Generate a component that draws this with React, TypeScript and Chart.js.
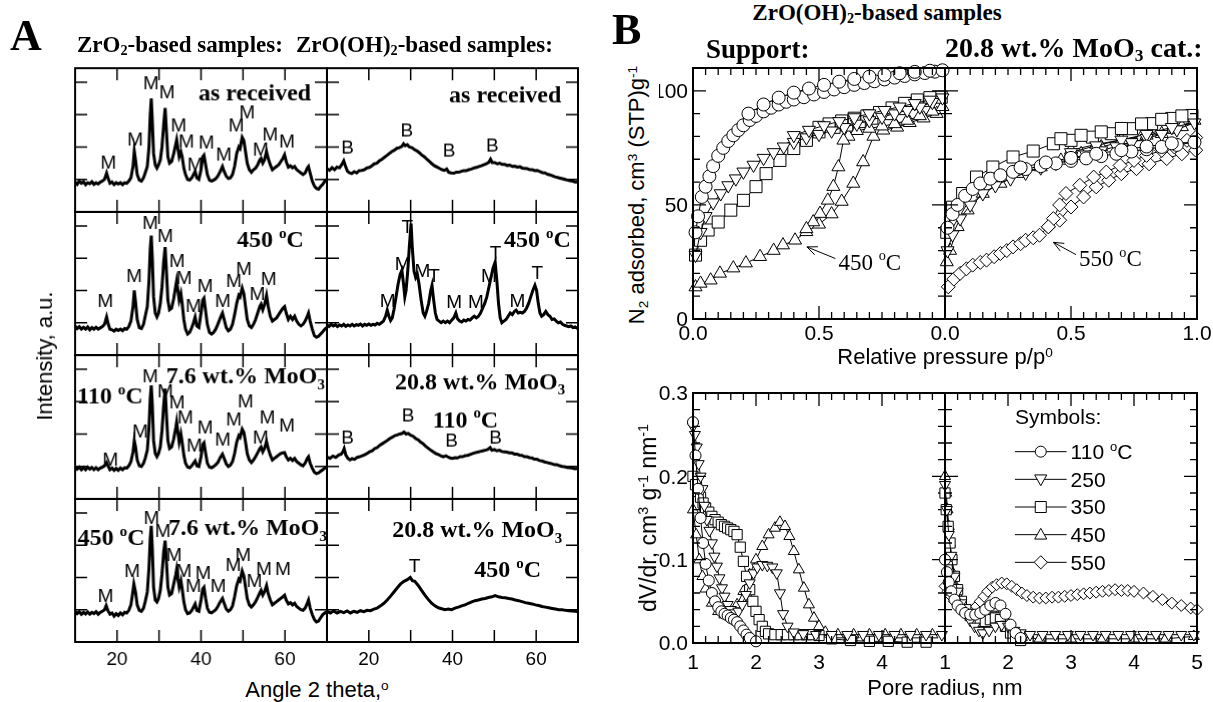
import { useEffect, useRef } from "react";
import { Chart, registerables } from "chart.js";

Chart.register(...registerables);

type Pt = [number, number];
type Mark = [number, number, string];
type Caption = [number, number, string, string?];

const SANS = '"Liberation Sans", Arial, Helvetica, sans-serif';
const SERIF = '"Liberation Serif", "Times New Roman", Times, serif';

/* ---------------- X-ray diffraction patterns: [2θ (deg), intensity (a.u.)] ---------------- */

const xrdZrO2AsReceived: Pt[] = [
  [10, 0.92], [10.5, 0.85], [11, 0.95], [11.5, 0.88], [12, 0.93], [12.5, 0.84], [13, 0.9], [13.5, 0.87], [14, 0.93], [14.5, 0.85],
  [15, 0.9], [15.5, 0.86], [16, 0.92], [16.5, 0.95], [17, 1.0], [17.5, 1.2], [17.9, 1.02], [18.3, 0.88], [18.8, 0.92], [19.3, 0.84],
  [19.8, 0.9], [20.3, 0.86], [20.8, 0.9], [21.3, 0.84], [21.8, 0.9], [22.3, 0.88], [22.8, 0.95], [23.3, 1.05], [23.8, 1.4], [24.1, 1.88],
  [24.4, 1.6], [24.8, 1.15], [25.3, 0.98], [25.8, 0.95], [26.3, 1.05], [26.7, 1.2], [27.2, 1.4], [27.6, 2.0], [27.9, 3.0], [28.15, 3.5],
  [28.4, 2.8], [28.7, 1.8], [29.1, 1.45], [29.5, 1.35], [29.9, 1.45], [30.3, 1.6], [30.7, 2.0], [31.1, 2.7], [31.45, 3.2], [31.8, 2.4],
  [32.1, 1.7], [32.5, 1.5], [33.0, 1.55], [33.5, 1.8], [34.0, 2.1], [34.2, 2.22], [34.5, 1.95], [34.8, 1.7], [35.2, 1.85], [35.5, 1.7],
  [35.9, 1.35], [36.3, 1.15], [36.8, 1.0], [37.3, 0.98], [37.8, 1.05], [38.2, 1.15], [38.6, 1.25], [39.0, 1.05], [39.5, 1.0], [40.0, 1.3],
  [40.4, 1.7], [40.7, 1.75], [41.1, 1.45], [41.5, 1.15], [42.0, 0.98], [42.5, 0.95], [43.0, 0.98], [43.5, 1.02], [44.0, 1.1], [44.6, 1.25],
  [45.1, 1.4], [45.5, 1.25], [46.0, 1.1], [46.5, 1.03], [47.0, 1.05], [47.5, 1.15], [48.0, 1.4], [48.5, 1.8], [49.0, 2.0], [49.3, 1.95],
  [49.8, 2.3], [50.2, 2.2], [50.6, 1.85], [51.0, 1.5], [51.5, 1.3], [52.0, 1.22], [52.5, 1.3], [53.0, 1.35], [53.5, 1.45], [54.0, 1.6],
  [54.3, 1.65], [54.7, 1.5], [55.1, 1.6], [55.6, 1.86], [56.0, 1.65], [56.5, 1.45], [57.0, 1.3], [57.5, 1.35], [58.0, 1.4], [58.5, 1.45],
  [59.0, 1.55], [59.5, 1.65], [59.9, 1.76], [60.3, 1.55], [60.8, 1.38], [61.3, 1.42], [61.8, 1.36], [62.3, 1.4], [62.8, 1.3], [63.3, 1.25],
  [63.8, 1.2], [64.3, 1.15], [64.8, 1.2], [65.3, 1.35], [65.6, 1.4], [66.0, 1.2], [66.5, 0.95], [67.0, 0.8], [67.5, 0.72], [68.0, 0.7],
  [68.5, 0.78], [69.0, 0.85], [69.5, 0.95], [70, 1.0],
];

const xrdZrO2At450: Pt[] = [
  [10, 0.9], [10.5, 0.82], [11, 0.88], [11.5, 0.8], [12, 0.86], [12.5, 0.8], [13, 0.87], [13.5, 0.78], [14, 0.85], [14.5, 0.8],
  [15, 0.86], [15.5, 0.8], [16, 0.84], [16.5, 0.88], [17, 0.95], [17.5, 1.18], [17.9, 0.95], [18.3, 0.8], [18.8, 0.78], [19.3, 0.74],
  [19.8, 0.8], [20.3, 0.76], [20.8, 0.8], [21.3, 0.75], [21.8, 0.82], [22.3, 0.8], [22.8, 0.88], [23.3, 1.05], [23.8, 1.5], [24.1, 2.0],
  [24.4, 1.65], [24.8, 1.1], [25.3, 0.85], [25.8, 0.82], [26.3, 0.95], [26.7, 1.2], [27.2, 1.5], [27.6, 2.3], [27.9, 3.3], [28.15, 3.7],
  [28.4, 3.0], [28.7, 1.8], [29.1, 1.3], [29.5, 1.18], [29.9, 1.3], [30.3, 1.6], [30.7, 2.1], [31.1, 2.9], [31.45, 3.34], [31.8, 2.5],
  [32.1, 1.7], [32.5, 1.4], [33.0, 1.45], [33.5, 1.75], [34.0, 2.15], [34.2, 2.3], [34.5, 2.0], [34.8, 1.7], [35.2, 1.9], [35.5, 1.6],
  [35.9, 1.1], [36.3, 0.8], [36.8, 0.65], [37.3, 0.7], [37.8, 0.85], [38.2, 1.0], [38.6, 1.18], [39.0, 0.9], [39.5, 0.85], [40.0, 1.3],
  [40.4, 1.7], [40.7, 1.76], [41.1, 1.35], [41.5, 0.95], [42.0, 0.7], [42.5, 0.65], [43.0, 0.7], [43.5, 0.8], [44.0, 0.95], [44.6, 1.15],
  [45.1, 1.3], [45.5, 1.1], [46.0, 0.85], [46.5, 0.75], [47.0, 0.8], [47.5, 0.95], [48.0, 1.25], [48.5, 1.6], [49.0, 1.85], [49.3, 1.8],
  [49.8, 2.07], [50.2, 1.9], [50.6, 1.5], [51.0, 1.1], [51.5, 0.9], [52.0, 0.85], [52.5, 0.95], [53.0, 1.1], [53.5, 1.3], [54.0, 1.5],
  [54.3, 1.57], [54.7, 1.4], [55.1, 1.55], [55.6, 1.85], [56.0, 1.5], [56.5, 1.2], [57.0, 1.05], [57.5, 1.1], [58.0, 1.15], [58.5, 1.25],
  [59.0, 1.35], [59.5, 1.45], [59.9, 1.5], [60.3, 1.3], [60.8, 1.1], [61.3, 1.2], [61.8, 1.1], [62.3, 1.2], [62.8, 1.05], [63.3, 0.95],
  [63.8, 0.9], [64.3, 0.95], [64.8, 1.05], [65.3, 1.2], [65.6, 1.3], [66.0, 1.05], [66.5, 0.8], [67.0, 0.6], [67.5, 0.55], [68.0, 0.58],
  [68.5, 0.65], [69.0, 0.72], [69.5, 0.8], [70, 0.85],
];

const xrdZrO2Mo110: Pt[] = [
  [10, 1.0], [10.5, 0.92], [11, 0.98], [11.5, 0.9], [12, 0.97], [12.5, 0.9], [13, 0.98], [13.5, 0.92], [14, 0.97], [14.5, 0.9],
  [15, 0.96], [15.5, 0.9], [16, 0.95], [16.5, 0.98], [17, 1.02], [17.5, 1.12], [17.9, 1.0], [18.3, 0.9], [18.8, 0.95], [19.3, 0.88],
  [19.8, 0.94], [20.3, 0.88], [20.8, 0.95], [21.3, 0.9], [21.8, 0.96], [22.3, 0.95], [22.8, 1.02], [23.3, 1.15], [23.8, 1.45], [24.1, 1.8],
  [24.4, 1.6], [24.8, 1.2], [25.3, 1.02], [25.8, 1.0], [26.3, 1.1], [26.7, 1.25], [27.2, 1.5], [27.6, 2.2], [27.9, 3.1], [28.15, 3.5],
  [28.4, 2.9], [28.7, 1.8], [29.1, 1.4], [29.5, 1.3], [29.9, 1.4], [30.3, 1.6], [30.7, 2.1], [31.1, 2.9], [31.45, 3.4], [31.8, 2.5],
  [32.1, 1.8], [32.5, 1.55], [33.0, 1.6], [33.5, 1.85], [34.0, 2.2], [34.2, 2.37], [34.5, 2.05], [34.8, 1.75], [35.2, 2.0], [35.5, 1.75],
  [35.9, 1.35], [36.3, 1.1], [36.8, 0.98], [37.3, 0.96], [37.8, 1.02], [38.2, 1.1], [38.6, 1.17], [39.0, 1.02], [39.5, 1.0], [40.0, 1.3],
  [40.4, 1.68], [40.7, 1.73], [41.1, 1.4], [41.5, 1.1], [42.0, 0.98], [42.5, 0.96], [43.0, 1.0], [43.5, 1.05], [44.0, 1.12], [44.6, 1.28],
  [45.1, 1.38], [45.5, 1.25], [46.0, 1.08], [46.5, 1.0], [47.0, 1.04], [47.5, 1.15], [48.0, 1.4], [48.5, 1.75], [49.0, 1.95], [49.3, 1.9],
  [49.8, 2.15], [50.2, 2.05], [50.6, 1.75], [51.0, 1.4], [51.5, 1.2], [52.0, 1.12], [52.5, 1.2], [53.0, 1.3], [53.5, 1.42], [54.0, 1.55],
  [54.3, 1.6], [54.7, 1.45], [55.1, 1.55], [55.6, 1.77], [56.0, 1.55], [56.5, 1.35], [57.0, 1.2], [57.5, 1.25], [58.0, 1.3], [58.5, 1.35],
  [59.0, 1.4], [59.5, 1.42], [59.9, 1.43], [60.3, 1.3], [60.8, 1.2], [61.3, 1.25], [61.8, 1.18], [62.3, 1.25], [62.8, 1.15], [63.3, 1.1],
  [63.8, 1.05], [64.3, 1.02], [64.8, 1.1], [65.3, 1.25], [65.6, 1.3], [66.0, 1.1], [66.5, 0.95], [67.0, 0.82], [67.5, 0.78], [68.0, 0.8],
  [68.5, 0.85], [69.0, 0.9], [69.5, 0.95], [70, 0.98],
];

const xrdZrO2Mo450: Pt[] = [
  [10, 0.95], [10.5, 0.88], [11, 0.94], [11.5, 0.86], [12, 0.92], [12.5, 0.87], [13, 0.93], [13.5, 0.86], [14, 0.92], [14.5, 0.88],
  [15, 0.94], [15.5, 0.86], [16, 0.92], [16.5, 0.95], [17, 1.0], [17.4, 1.13], [17.8, 0.98], [18.3, 0.86], [18.8, 0.9], [19.3, 0.8],
  [19.8, 0.88], [20.3, 0.82], [20.8, 0.9], [21.3, 0.84], [21.8, 0.92], [22.3, 0.9], [22.8, 0.98], [23.3, 1.15], [23.7, 1.5], [24.0, 1.8],
  [24.4, 1.55], [24.8, 1.15], [25.3, 0.98], [25.8, 0.95], [26.3, 1.05], [26.7, 1.25], [27.2, 1.55], [27.6, 2.3], [27.9, 3.2], [28.15, 3.6],
  [28.4, 2.9], [28.7, 1.7], [29.1, 1.3], [29.5, 1.24], [29.9, 1.35], [30.3, 1.6], [30.7, 2.1], [31.1, 2.8], [31.45, 3.14], [31.8, 2.4],
  [32.1, 1.7], [32.5, 1.45], [33.0, 1.5], [33.5, 1.8], [34.0, 2.1], [34.2, 2.25], [34.5, 1.95], [34.8, 1.7], [35.2, 1.9], [35.5, 1.65],
  [35.9, 1.25], [36.3, 1.0], [36.8, 0.88], [37.3, 0.9], [37.8, 0.98], [38.2, 1.08], [38.6, 1.18], [39.0, 0.98], [39.5, 0.95], [40.0, 1.3],
  [40.4, 1.65], [40.7, 1.7], [41.1, 1.35], [41.5, 1.05], [42.0, 0.92], [42.5, 0.9], [43.0, 0.95], [43.5, 1.0], [44.0, 1.1], [44.6, 1.25],
  [45.1, 1.35], [45.5, 1.2], [46.0, 1.02], [46.5, 0.95], [47.0, 1.0], [47.5, 1.12], [48.0, 1.4], [48.5, 1.75], [49.0, 1.95], [49.3, 1.9],
  [49.8, 2.2], [50.2, 2.05], [50.6, 1.7], [51.0, 1.35], [51.5, 1.15], [52.0, 1.08], [52.5, 1.15], [53.0, 1.25], [53.5, 1.38], [54.0, 1.52],
  [54.3, 1.6], [54.7, 1.45], [55.1, 1.55], [55.6, 1.75], [56.0, 1.5], [56.5, 1.3], [57.0, 1.15], [57.5, 1.2], [58.0, 1.25], [58.5, 1.3],
  [59.0, 1.35], [59.5, 1.4], [59.9, 1.45], [60.3, 1.3], [60.8, 1.18], [61.3, 1.22], [61.8, 1.15], [62.3, 1.2], [62.8, 1.1], [63.3, 1.05],
  [63.8, 1.0], [64.3, 0.98], [64.8, 1.05], [65.3, 1.2], [65.6, 1.3], [66.0, 1.05], [66.5, 0.85], [67.0, 0.7], [67.5, 0.62], [68.0, 0.65],
  [68.5, 0.75], [69.0, 0.85], [69.5, 0.9], [70, 0.95],
];

const xrdZrOOHAsReceived: Pt[] = [
  [10, 1.33], [10.6, 1.28], [11.2, 1.36], [11.8, 1.3], [12.4, 1.38], [13.0, 1.36], [13.5, 1.45], [14.0, 1.57], [14.4, 1.42], [14.9, 1.25],
  [15.4, 1.2], [15.9, 1.18], [16.5, 1.24], [17.1, 1.2], [17.7, 1.27], [18.3, 1.28], [18.9, 1.3], [19.5, 1.35], [20.1, 1.37], [20.7, 1.42],
  [21.3, 1.48], [21.9, 1.5], [22.5, 1.57], [23.1, 1.62], [23.7, 1.68], [24.3, 1.74], [24.9, 1.8], [25.5, 1.86], [26.1, 1.9], [26.7, 1.96],
  [27.3, 1.98], [27.9, 2.02], [28.3, 2.1], [28.7, 2.04], [29.2, 2.07], [29.7, 2.0], [30.3, 1.98], [30.9, 1.92], [31.5, 1.88], [32.1, 1.82],
  [32.7, 1.75], [33.3, 1.7], [33.9, 1.62], [34.5, 1.55], [35.1, 1.48], [35.7, 1.42], [36.3, 1.38], [36.9, 1.34], [37.5, 1.3], [38.1, 1.28],
  [38.6, 1.32], [39.1, 1.22], [39.7, 1.2], [40.3, 1.19], [40.9, 1.22], [41.5, 1.22], [42.1, 1.25], [42.7, 1.27], [43.3, 1.27], [43.9, 1.3],
  [44.5, 1.32], [45.1, 1.35], [45.7, 1.37], [46.3, 1.4], [46.9, 1.42], [47.5, 1.45], [48.1, 1.48], [48.7, 1.53], [49.1, 1.62], [49.5, 1.52],
  [50.1, 1.52], [50.7, 1.48], [51.3, 1.5], [51.9, 1.46], [52.5, 1.46], [53.1, 1.43], [53.7, 1.44], [54.3, 1.4], [54.9, 1.41], [55.5, 1.38],
  [56.1, 1.39], [56.7, 1.35], [57.3, 1.34], [57.9, 1.33], [58.5, 1.3], [59.1, 1.3], [59.7, 1.27], [60.3, 1.28], [60.9, 1.24], [61.5, 1.21],
  [62.1, 1.2], [62.7, 1.16], [63.3, 1.14], [63.9, 1.11], [64.5, 1.08], [65.1, 1.06], [65.7, 1.04], [66.3, 1.02], [66.9, 1.0], [67.5, 0.98],
  [68.1, 0.96], [68.7, 0.95], [69.3, 0.92], [70, 0.92],
];

const xrdZrOOHAt450: Pt[] = [
  [10, 0.93], [10.5, 0.88], [11, 0.95], [11.5, 0.9], [12, 0.94], [12.5, 0.88], [13, 0.93], [13.5, 0.9], [14, 0.95], [14.5, 0.89],
  [15, 0.93], [15.5, 0.9], [16, 0.95], [16.5, 0.9], [17, 0.94], [17.5, 0.92], [18, 0.96], [18.5, 0.9], [19, 0.95], [19.5, 0.92],
  [20, 0.96], [20.5, 0.92], [21, 0.95], [21.5, 0.93], [22, 0.98], [22.5, 0.95], [23, 1.0], [23.5, 1.05], [24.0, 1.2], [24.4, 1.39],
  [24.8, 1.2], [25.2, 1.07], [25.6, 1.15], [26.0, 1.4], [26.5, 1.8], [27.0, 2.2], [27.5, 2.5], [27.9, 2.62], [28.3, 2.2], [28.6, 1.8],
  [28.9, 2.0], [29.3, 2.6], [29.7, 3.4], [30.1, 4.07], [30.4, 3.3], [30.8, 2.6], [31.2, 2.4], [31.6, 2.5], [32.0, 2.2], [32.5, 1.7],
  [33.0, 1.3], [33.4, 1.2], [33.8, 1.35], [34.3, 1.6], [34.8, 2.0], [35.1, 2.16], [35.5, 1.7], [35.9, 1.3], [36.3, 1.1], [36.8, 1.05],
  [37.3, 1.0], [37.8, 1.05], [38.3, 1.0], [38.8, 1.05], [39.3, 1.0], [39.8, 1.08], [40.3, 1.15], [40.8, 1.3], [41.2, 1.12], [41.7, 1.05],
  [42.2, 1.02], [42.7, 1.08], [43.2, 1.05], [43.7, 1.1], [44.2, 1.08], [44.7, 1.15], [45.2, 1.2], [45.7, 1.15], [46.2, 1.2], [46.7, 1.3],
  [47.2, 1.45], [47.7, 1.6], [48.2, 1.8], [48.7, 2.1], [49.2, 2.4], [49.7, 2.7], [50.2, 2.88], [50.6, 2.3], [51.0, 1.6], [51.4, 1.15],
  [51.8, 1.0], [52.3, 1.05], [52.8, 1.1], [53.3, 1.2], [53.8, 1.3], [54.3, 1.25], [54.8, 1.35], [55.2, 1.39], [55.7, 1.3], [56.2, 1.32],
  [56.7, 1.3], [57.2, 1.35], [57.7, 1.45], [58.2, 1.6], [58.7, 1.8], [59.2, 2.0], [59.7, 2.16], [60.1, 2.0], [60.5, 1.6], [60.9, 1.3],
  [61.3, 1.2], [61.8, 1.25], [62.3, 1.35], [62.8, 1.25], [63.3, 1.2], [63.8, 1.1], [64.3, 1.12], [64.8, 1.05], [65.3, 1.0], [65.8, 1.02],
  [66.3, 0.95], [66.8, 0.92], [67.3, 0.9], [67.8, 0.88], [68.3, 0.9], [68.8, 0.85], [69.3, 0.87], [69.8, 0.83], [70, 0.85],
];

const xrdZrOOHMo110: Pt[] = [
  [10, 1.29], [10.7, 1.25], [11.4, 1.32], [12.1, 1.28], [12.8, 1.35], [13.4, 1.38], [13.8, 1.45], [14.1, 1.55], [14.5, 1.35], [15.0, 1.25],
  [15.5, 1.2], [16.0, 1.24], [16.6, 1.22], [17.2, 1.28], [17.8, 1.3], [18.4, 1.33], [19.0, 1.36], [19.6, 1.4], [20.2, 1.45], [20.8, 1.48],
  [21.4, 1.55], [22.0, 1.58], [22.6, 1.65], [23.2, 1.7], [23.8, 1.75], [24.4, 1.8], [25.0, 1.86], [25.6, 1.9], [26.2, 1.95], [26.8, 1.97],
  [27.4, 2.0], [28.0, 2.02], [28.4, 2.06], [28.9, 2.0], [29.4, 2.02], [30.0, 1.96], [30.6, 1.93], [31.2, 1.86], [31.8, 1.82], [32.4, 1.75],
  [33.0, 1.7], [33.6, 1.62], [34.2, 1.56], [34.8, 1.5], [35.4, 1.45], [36.0, 1.4], [36.6, 1.37], [37.2, 1.33], [37.8, 1.3], [38.4, 1.33],
  [38.8, 1.3], [39.4, 1.26], [40.0, 1.25], [40.6, 1.27], [41.2, 1.26], [41.8, 1.3], [42.4, 1.3], [43.0, 1.33], [43.6, 1.34], [44.2, 1.37],
  [44.8, 1.4], [45.4, 1.42], [46.0, 1.44], [46.6, 1.46], [47.2, 1.48], [47.8, 1.5], [48.4, 1.52], [49.0, 1.58], [49.4, 1.5], [50.0, 1.52],
  [50.6, 1.48], [51.2, 1.5], [51.8, 1.46], [52.4, 1.45], [53.0, 1.44], [53.6, 1.42], [54.2, 1.42], [54.8, 1.38], [55.4, 1.38], [56.0, 1.35],
  [56.6, 1.34], [57.2, 1.3], [57.8, 1.3], [58.4, 1.27], [59.0, 1.26], [59.6, 1.22], [60.2, 1.22], [60.8, 1.18], [61.4, 1.17], [62.0, 1.14],
  [62.6, 1.12], [63.2, 1.1], [63.8, 1.08], [64.4, 1.05], [65.0, 1.05], [65.6, 1.02], [66.2, 1.0], [66.8, 0.99], [67.4, 0.97], [68.0, 0.96],
  [68.6, 0.95], [69.2, 0.93], [70, 0.94],
];

const xrdZrOOHMo450: Pt[] = [
  [10, 0.95], [10.8, 0.9], [11.6, 0.96], [12.4, 0.9], [13.2, 0.95], [14.0, 0.91], [14.8, 0.96], [15.6, 0.9], [16.4, 0.95], [17.2, 0.92],
  [18.0, 0.97], [18.8, 0.94], [19.6, 0.98], [20.4, 0.97], [21.2, 1.02], [22.0, 1.05], [22.8, 1.12], [23.6, 1.2], [24.4, 1.3], [25.2, 1.42],
  [26.0, 1.55], [26.8, 1.68], [27.6, 1.8], [28.4, 1.88], [29.2, 1.93], [29.9, 2.0], [30.4, 1.9], [31.0, 1.88], [31.8, 1.75], [32.6, 1.6],
  [33.4, 1.45], [34.2, 1.32], [35.0, 1.2], [35.8, 1.12], [36.6, 1.06], [37.4, 1.03], [38.2, 1.0], [39.0, 1.02], [39.8, 1.0], [40.6, 1.05],
  [41.4, 1.08], [42.2, 1.12], [43.0, 1.15], [43.8, 1.2], [44.6, 1.24], [45.4, 1.28], [46.2, 1.3], [47.0, 1.33], [47.8, 1.35], [48.6, 1.38],
  [49.4, 1.4], [50.2, 1.44], [51.0, 1.4], [51.8, 1.38], [52.6, 1.37], [53.4, 1.35], [54.2, 1.33], [55.0, 1.3], [55.8, 1.28], [56.6, 1.25],
  [57.4, 1.22], [58.2, 1.2], [59.0, 1.18], [59.8, 1.15], [60.6, 1.13], [61.4, 1.1], [62.2, 1.08], [63.0, 1.06], [63.8, 1.04], [64.6, 1.02],
  [65.4, 1.0], [66.2, 1.0], [67.0, 0.98], [67.8, 0.97], [68.6, 0.96], [69.4, 0.95], [70, 0.94],
];

/* ---------------- phase reflections: [2θ, label height, phase] ---------------- */

const phaseZrO2AsReceived: Mark[] = [
  [17.9, 1.54, "M"], [24.3, 2.26, "M"], [28.1, 4.0, "M"], [31.9, 3.7, "M"], [34.65, 2.67, "M"], [36.5, 2.2, "M"], [38.6, 1.49, "M"],
  [41.3, 2.15, "M"], [45.4, 1.8, "M"], [48.4, 2.67, "M"], [51.0, 3.08, "M"], [54.2, 1.95, "M"], [56.5, 2.41, "M"], [60.5, 2.2, "M"],
];
const phaseZrO2At450: Mark[] = [
  [17.2, 1.7, "M"], [24.1, 2.47, "M"], [27.9, 4.11, "M"], [31.5, 3.7, "M"], [34.3, 2.93, "M"], [36.0, 2.42, "M"], [38.2, 1.54, "M"],
  [41.0, 2.16, "M"], [45.2, 1.7, "M"], [47.8, 2.31, "M"], [50.2, 2.68, "M"], [53.4, 1.9, "M"], [56.1, 2.37, "M"],
];
const phaseZrO2Mo110: Mark[] = [
  [18.4, 1.24, "M"], [25.5, 2.11, "M"], [27.9, 3.81, "M"], [31.5, 3.35, "M"], [34.3, 2.99, "M"], [36.3, 2.52, "M"], [38.4, 1.65, "M"],
  [41.0, 2.22, "M"], [45.2, 1.86, "M"], [47.8, 2.48, "M"], [50.6, 3.04, "M"], [54.2, 1.91, "M"], [55.8, 2.52, "M"], [60.5, 2.27, "M"],
];
const phaseZrO2Mo450: Mark[] = [
  [17.3, 1.44, "M"], [23.6, 2.22, "M"], [28.2, 3.87, "M"], [30.9, 3.45, "M"], [33.6, 2.73, "M"], [35.9, 2.22, "M"], [38.2, 1.75, "M"],
  [40.5, 2.16, "M"], [44.1, 1.75, "M"], [47.7, 2.42, "M"], [50.0, 2.73, "M"], [52.7, 1.9, "M"], [55.0, 2.27, "M"], [59.5, 2.27, "M"],
];
const phaseZrOOHAsReceived: Mark[] = [
  [14.9, 2.0, "B"], [29.1, 2.52, "B"], [39.2, 1.9, "B"], [49.5, 2.05, "B"],
];
const phaseZrOOHAt450: Mark[] = [
  [24.5, 1.7, "M"], [28.1, 2.83, "M"], [29.2, 4.0, "T"], [32.8, 2.62, "M"], [35.6, 2.47, "T"], [40.4, 1.65, "M"], [45.6, 1.65, "M"],
  [48.7, 2.47, "M"], [50.3, 3.19, "T"], [55.5, 1.7, "M"], [60.3, 2.57, "T"],
];
const phaseZrOOHMo110: Mark[] = [
  [14.9, 1.9, "B"], [29.4, 2.6, "B"], [39.8, 1.81, "B"], [50.3, 1.92, "B"],
];
const phaseZrOOHMo450: Mark[] = [[30.9, 2.37, "T"]];

/* ---------------- sample captions: [2θ, height, text, alignment] ---------------- */

const captionZrO2AsReceived: Caption[] = [[52.8, 3.7, "as received"]];
const captionZrO2At450: Caption[] = [[56.5, 3.6, "450 ^{o}C"]];
const captionZrO2Mo110: Caption[] = [[10.5, 3.2, "110 ^{o}C", "left"], [50.6, 3.81, "7.6 wt.% MoO_{3}"]];
const captionZrO2Mo450: Caption[] = [[10.6, 3.25, "450 ^{o}C", "left"], [51.1, 3.56, "7.6 wt.% MoO_{3}"]];
const captionZrOOHAsReceived: Caption[] = [[52.6, 3.65, "as received"]];
const captionZrOOHAt450: Caption[] = [[60.3, 3.6, "450 ^{o}C"]];
const captionZrOOHMo110: Caption[] = [[46.6, 3.65, "20.8 wt.% MoO_{3}"], [43.1, 2.47, "110 ^{o}C"]];
const captionZrOOHMo450: Caption[] = [[45.9, 3.5, "20.8 wt.% MoO_{3}"], [53.2, 2.27, "450 ^{o}C"]];

const twoThetaMajor = [20, 30, 40, 50, 60];
const twoThetaLabels = [20, 40, 60];
const intensityTicks = [1, 2, 3, 4];

/* ---------------- N2 isotherms: [p/p0, V (cm3 STP/g)], adsorption then desorption ---------------- */

const supportIso110: Pt[] = [
  [0.01, 38], [0.02, 45], [0.035, 53.5], [0.05, 58], [0.065, 62.5], [0.08, 67], [0.1, 71.5], [0.12, 75], [0.14, 78], [0.16, 80.5],
  [0.18, 82.8], [0.2, 84.9], [0.225, 87.2], [0.25, 89], [0.28, 91], [0.31, 92.6], [0.34, 94], [0.37, 95.2], [0.4, 96.2], [0.44, 97.2],
  [0.48, 98.4], [0.52, 99.5], [0.56, 100.6], [0.6, 101.6], [0.64, 102.6], [0.68, 103.4], [0.72, 104.2], [0.76, 105], [0.8, 105.8],
  [0.84, 106.5], [0.88, 107.2], [0.92, 107.8], [0.96, 108.4], [0.99, 109],
  [0.94, 108.8], [0.88, 108.3], [0.82, 107.7], [0.76, 107], [0.7, 106.2], [0.64, 105.2], [0.58, 104], [0.52, 102.6], [0.46, 101],
  [0.4, 99.2], [0.34, 97], [0.28, 94], [0.22, 90],
];
const supportIso250: Pt[] = [
  [0.01, 28], [0.03, 38], [0.05, 45], [0.08, 51], [0.11, 55], [0.14, 58.5], [0.17, 61.5], [0.2, 64.5], [0.24, 67.5], [0.28, 70.5],
  [0.32, 73], [0.36, 75.5], [0.4, 77.5], [0.45, 79.5], [0.5, 81], [0.55, 82.5], [0.6, 84], [0.65, 85.5], [0.7, 87], [0.75, 88.5],
  [0.8, 90], [0.85, 91.5], [0.9, 93], [0.95, 95], [0.99, 97],
  [0.94, 96], [0.88, 94.5], [0.82, 93], [0.76, 91.5], [0.7, 90], [0.64, 88.3], [0.58, 86.6], [0.52, 84.8], [0.46, 82.8], [0.4, 80.5],
];
const supportIso350: Pt[] = [
  [0.01, 28], [0.03, 34.5], [0.06, 39], [0.1, 42.5], [0.15, 47.7], [0.2, 52], [0.25, 58], [0.29, 63.7], [0.345, 69.5], [0.4, 74.7],
  [0.45, 78.3], [0.5, 82], [0.56, 84], [0.61, 85], [0.66, 86.5], [0.71, 88], [0.77, 90], [0.82, 92.2], [0.875, 94.4], [0.93, 95.8],
  [0.985, 97.2],
  [0.94, 97], [0.89, 96], [0.84, 94.5], [0.79, 92.5], [0.74, 90.5], [0.69, 89], [0.64, 88], [0.59, 86.8], [0.54, 85.5], [0.5, 84],
];
const supportIso450: Pt[] = [
  [0.01, 14], [0.03, 15.6], [0.07, 17], [0.107, 20], [0.16, 22.3], [0.21, 24.5], [0.266, 27.3], [0.32, 30], [0.357, 32.4], [0.405, 34.5],
  [0.45, 38.2], [0.5, 41.5], [0.55, 46], [0.59, 51.5], [0.636, 59.4], [0.675, 68.8], [0.716, 80], [0.755, 82.7], [0.81, 84], [0.86, 86],
  [0.915, 88], [0.967, 90], [0.99, 93],
  [0.95, 91], [0.9, 89], [0.85, 87], [0.8, 85.5], [0.75, 84.5], [0.7, 83.5], [0.65, 82.5], [0.617, 80], [0.597, 78.3], [0.577, 66.6],
  [0.557, 58], [0.535, 52], [0.504, 46.2], [0.477, 42.5], [0.45, 39.5],
];
const catIso110: Pt[] = [
  [0.01, 40], [0.03, 46], [0.05, 50], [0.08, 54], [0.11, 57], [0.14, 59.4], [0.18, 61.5], [0.22, 63], [0.27, 64.5], [0.32, 65.7],
  [0.38, 67], [0.44, 68.2], [0.5, 69.3], [0.56, 70.4], [0.62, 71.4], [0.68, 72.4], [0.74, 73.4], [0.8, 74.4], [0.86, 75.4], [0.92, 76.3],
  [0.99, 77.5],
  [0.9, 77], [0.8, 75.6], [0.7, 74], [0.6, 72.4], [0.5, 70.6], [0.4, 68.6], [0.3, 66.4],
];
const catIso250: Pt[] = [
  [0.01, 30], [0.03, 37], [0.06, 44], [0.1, 50], [0.15, 55], [0.2, 58.5], [0.26, 61.5], [0.32, 64], [0.38, 66.3], [0.44, 68.3],
  [0.5, 70.2], [0.56, 72], [0.62, 73.8], [0.68, 75.6], [0.74, 77.4], [0.8, 79.2], [0.86, 81], [0.92, 83], [0.99, 86],
  [0.9, 84], [0.8, 81], [0.7, 78.5], [0.6, 76], [0.5, 73],
];
const catIso350: Pt[] = [
  [0.007, 38], [0.03, 49], [0.07, 55], [0.125, 62.2], [0.19, 66.6], [0.27, 71], [0.35, 73.6], [0.43, 76.8], [0.5, 78.3], [0.585, 79.7],
  [0.66, 81.2], [0.74, 83.4], [0.82, 85.6], [0.9, 87.9], [0.98, 89.2],
  [0.94, 89], [0.86, 87.5], [0.78, 85.5], [0.7, 83.5], [0.62, 82], [0.54, 80.5], [0.46, 79],
];
const catIso450: Pt[] = [
  [0.007, 25], [0.02, 30], [0.05, 40.4], [0.09, 47.7], [0.15, 55], [0.22, 59.4], [0.3, 63.7], [0.38, 66.6], [0.46, 69.5], [0.54, 72.4],
  [0.62, 75.4], [0.7, 77.6], [0.78, 79.8], [0.86, 81.2], [0.94, 84.2], [0.99, 87],
  [0.9, 83], [0.8, 80.5], [0.7, 78.5], [0.6, 76.5], [0.5, 74],
];
const catIso550: Pt[] = [
  [0.013, 14.1], [0.035, 17.5], [0.06, 20], [0.085, 22], [0.11, 23.6], [0.14, 24.8], [0.165, 25.8], [0.195, 27.3], [0.22, 28.7],
  [0.245, 30], [0.27, 31.6], [0.3, 33], [0.32, 34.5], [0.35, 35.6], [0.375, 36.7], [0.41, 40.4], [0.455, 43.3], [0.5, 49.1], [0.55, 53.5],
  [0.6, 57.9], [0.65, 60.8], [0.7, 63.7], [0.76, 65.9], [0.81, 68], [0.88, 70.3], [0.94, 72.4], [0.995, 74],
  [0.995, 79.5], [0.96, 78.3], [0.91, 75.4], [0.86, 73.9], [0.8, 71.7], [0.75, 69.5], [0.695, 67.3], [0.64, 64.4], [0.59, 62.2],
  [0.535, 58.6], [0.48, 55], [0.455, 50], [0.43, 44], [0.41, 40.4],
];

/* ---------------- pore size distributions: [r (nm), dV/dr] ---------------- */

const supportPsd110: Pt[] = [
  [1.0, 0.265], [1.04, 0.225], [1.08, 0.185], [1.12, 0.15], [1.16, 0.12], [1.2, 0.095], [1.25, 0.075], [1.3, 0.06], [1.35, 0.05],
  [1.4, 0.043], [1.45, 0.038], [1.5, 0.035], [1.55, 0.033], [1.6, 0.03], [1.65, 0.028], [1.7, 0.025], [1.75, 0.02], [1.8, 0.015],
  [1.85, 0.01], [1.9, 0.006], [2.0, 0.002],
];
const supportPsd250: Pt[] = [
  [1.0, 0.26], [1.03, 0.25], [1.06, 0.235], [1.09, 0.215], [1.12, 0.2], [1.15, 0.185], [1.18, 0.165], [1.22, 0.148], [1.26, 0.135],
  [1.3, 0.12], [1.34, 0.104], [1.38, 0.092], [1.42, 0.078], [1.46, 0.066], [1.5, 0.056], [1.55, 0.046], [1.6, 0.04], [1.66, 0.036],
  [1.72, 0.038], [1.78, 0.046], [1.84, 0.058], [1.9, 0.072], [1.96, 0.084], [2.02, 0.091], [2.1, 0.094], [2.18, 0.093], [2.26, 0.091],
  [2.33, 0.084], [2.38, 0.06], [2.43, 0.035], [2.5, 0.02], [2.6, 0.013], [2.75, 0.011], [2.95, 0.01], [3.2, 0.01], [3.45, 0.01],
  [3.7, 0.01], [3.95, 0.01], [4.2, 0.01], [4.45, 0.01], [4.7, 0.01], [4.95, 0.01],
];
const supportPsd350: Pt[] = [
  [1.0, 0.2], [1.04, 0.19], [1.08, 0.182], [1.12, 0.175], [1.16, 0.168], [1.2, 0.162], [1.25, 0.157], [1.3, 0.152], [1.35, 0.148],
  [1.4, 0.145], [1.45, 0.142], [1.5, 0.14], [1.55, 0.138], [1.6, 0.136], [1.65, 0.134], [1.7, 0.13], [1.75, 0.115], [1.8, 0.098],
  [1.85, 0.08], [1.9, 0.064], [1.95, 0.05], [2.0, 0.038], [2.05, 0.028], [2.1, 0.02], [2.15, 0.014], [2.2, 0.011], [2.3, 0.01],
  [2.4, 0.01], [2.5, 0.01], [2.6, 0.01], [2.7, 0.01], [2.8, 0.01], [2.9, 0.01], [3.0, 0.009], [3.2, 0.005], [3.5, 0.003],
  [3.8, 0.002], [4.1, 0.002], [4.4, 0.001], [4.7, 0.001],
];
const supportPsd450: Pt[] = [
  [1.0, 0.16], [1.05, 0.13], [1.1, 0.1], [1.15, 0.08], [1.2, 0.065], [1.3, 0.048], [1.4, 0.038], [1.5, 0.034], [1.6, 0.036],
  [1.7, 0.046], [1.8, 0.062], [1.9, 0.082], [2.0, 0.1], [2.1, 0.116], [2.2, 0.13], [2.3, 0.138], [2.38, 0.145], [2.46, 0.14],
  [2.53, 0.128], [2.6, 0.11], [2.68, 0.088], [2.76, 0.066], [2.84, 0.046], [2.92, 0.03], [3.0, 0.02], [3.1, 0.013], [3.3, 0.01],
  [3.55, 0.01], [3.8, 0.01], [4.05, 0.01], [4.3, 0.01], [4.55, 0.01], [4.8, 0.01],
];
const catPsd110: Pt[] = [
  [1.0, 0.1], [1.03, 0.085], [1.06, 0.073], [1.1, 0.062], [1.15, 0.052], [1.2, 0.045], [1.26, 0.04], [1.32, 0.036], [1.4, 0.034],
  [1.48, 0.034], [1.56, 0.036], [1.64, 0.04], [1.72, 0.045], [1.8, 0.048], [1.88, 0.045], [1.96, 0.035], [2.04, 0.022], [2.12, 0.012],
  [2.2, 0.006],
];
const catPsd250: Pt[] = [
  [1.0, 0.19], [1.03, 0.16], [1.06, 0.13], [1.1, 0.105], [1.15, 0.08], [1.2, 0.062], [1.26, 0.048], [1.33, 0.036], [1.4, 0.027],
  [1.47, 0.02], [1.54, 0.015], [1.6, 0.012], [1.7, 0.015], [1.8, 0.02], [1.9, 0.022], [2.0, 0.02], [2.1, 0.015], [2.2, 0.012],
  [2.35, 0.01], [2.55, 0.01], [2.75, 0.01], [2.95, 0.01], [3.15, 0.01], [3.35, 0.01], [3.55, 0.01], [3.75, 0.01], [3.95, 0.01],
  [4.15, 0.01], [4.35, 0.01], [4.55, 0.01], [4.75, 0.01], [4.95, 0.01],
];
const catPsd350: Pt[] = [
  [1.0, 0.18], [1.02, 0.16], [1.05, 0.14], [1.08, 0.12], [1.11, 0.1], [1.15, 0.08], [1.2, 0.064], [1.26, 0.05], [1.33, 0.04],
  [1.4, 0.033], [1.48, 0.028], [1.56, 0.026], [1.64, 0.026], [1.72, 0.028], [1.8, 0.03], [1.88, 0.028], [1.96, 0.02], [2.04, 0.012],
  [2.12, 0.006], [2.2, 0.003],
];
const catPsd450: Pt[] = [
  [1.0, 0.2], [1.02, 0.18], [1.04, 0.16], [1.06, 0.14], [1.08, 0.12], [1.1, 0.1], [1.13, 0.083], [1.17, 0.068], [1.22, 0.055],
  [1.28, 0.045], [1.35, 0.037], [1.42, 0.032], [1.5, 0.03], [1.58, 0.032], [1.66, 0.036], [1.74, 0.04], [1.82, 0.042], [1.9, 0.036],
  [1.98, 0.026], [2.06, 0.016], [2.14, 0.01], [2.22, 0.007], [2.5, 0.005], [3.0, 0.005], [3.5, 0.005], [4.0, 0.005], [4.5, 0.005],
  [4.95, 0.008],
];
const catPsd550: Pt[] = [
  [1.0, 0.068], [1.05, 0.062], [1.1, 0.056], [1.15, 0.05], [1.2, 0.046], [1.25, 0.042], [1.3, 0.04], [1.35, 0.038], [1.4, 0.038],
  [1.45, 0.04], [1.5, 0.044], [1.56, 0.05], [1.62, 0.056], [1.68, 0.062], [1.75, 0.067], [1.82, 0.07], [1.9, 0.072], [1.98, 0.071],
  [2.06, 0.068], [2.14, 0.064], [2.22, 0.06], [2.3, 0.057], [2.4, 0.055], [2.5, 0.054], [2.6, 0.054], [2.7, 0.055], [2.8, 0.055],
  [2.9, 0.056], [3.0, 0.057], [3.1, 0.058], [3.2, 0.059], [3.3, 0.06], [3.4, 0.061], [3.5, 0.062], [3.6, 0.063], [3.7, 0.064],
  [3.8, 0.063], [3.9, 0.063], [4.0, 0.062], [4.15, 0.06], [4.3, 0.056], [4.45, 0.052], [4.6, 0.048], [4.75, 0.045], [4.9, 0.042],
  [5.0, 0.04],
];

const temperatureNames = ["110 ^{o}C", "250", "350", "450", "550"];

/* ---------------- drawing helpers ---------------- */

type Marker = "circle" | "down" | "square" | "up" | "diamond";
const markers: Marker[] = ["circle", "down", "square", "up", "diamond"];

function richSegments(s: string) {
  const out: { t: string; k: number }[] = [];
  const re = /([_^])\{([^}]*)\}/g;
  let last = 0;
  let m: RegExpExecArray | null;
  while ((m = re.exec(s))) {
    if (m.index > last) out.push({ t: s.slice(last, m.index), k: 0 });
    out.push({ t: m[2], k: m[1] === "_" ? 1 : 2 });
    last = re.lastIndex;
  }
  if (last < s.length) out.push({ t: s.slice(last), k: 0 });
  return out;
}

type TextStyle = { size: number; family: string; weight?: string; align?: string };

function drawRich(ctx: CanvasRenderingContext2D, s: string, x: number, y: number, st: TextStyle) {
  const segs = richSegments(s);
  const small = st.size * 0.62;
  const font = (k: number) => `${st.weight || "normal"} ${k ? small : st.size}px ${st.family}`;
  let total = 0;
  const widths = segs.map((sg) => {
    ctx.font = font(sg.k);
    const w = ctx.measureText(sg.t).width;
    total += w;
    return w;
  });
  let cx = st.align === "left" ? x : st.align === "right" ? x - total : x - total / 2;
  const base = y + st.size * 0.35;
  ctx.textAlign = "left";
  ctx.textBaseline = "alphabetic";
  ctx.fillStyle = "#000";
  segs.forEach((sg, i) => {
    ctx.font = font(sg.k);
    const dy = sg.k === 1 ? st.size * 0.22 : sg.k === 2 ? -st.size * 0.4 : 0;
    ctx.fillText(sg.t, cx, base + dy);
    cx += widths[i];
  });
}

function drawMarker(ctx: CanvasRenderingContext2D, kind: Marker, x: number, y: number, r: number) {
  ctx.beginPath();
  if (kind === "circle") ctx.arc(x, y, r, 0, Math.PI * 2);
  else if (kind === "square") ctx.rect(x - r, y - r, 2 * r, 2 * r);
  else if (kind === "up") {
    ctx.moveTo(x, y - r * 1.15);
    ctx.lineTo(x + r * 1.1, y + r * 0.8);
    ctx.lineTo(x - r * 1.1, y + r * 0.8);
    ctx.closePath();
  } else if (kind === "down") {
    ctx.moveTo(x, y + r * 1.15);
    ctx.lineTo(x + r * 1.1, y - r * 0.8);
    ctx.lineTo(x - r * 1.1, y - r * 0.8);
    ctx.closePath();
  } else {
    ctx.moveTo(x, y - r * 1.2);
    ctx.lineTo(x + r * 1.2, y);
    ctx.lineTo(x, y + r * 1.2);
    ctx.lineTo(x - r * 1.2, y);
    ctx.closePath();
  }
  ctx.fillStyle = "#fff";
  ctx.fill();
  ctx.lineWidth = 1;
  ctx.strokeStyle = "#000";
  ctx.stroke();
}

// Frame, inward ticks, tick labels and in-plot annotations for one sub-plot.
const framePlugin = {
  id: "frame",
  afterDatasetsDraw(chart: any, _args: any, o: any) {
    const { ctx, chartArea: a } = chart;
    const X = (v: number) => chart.scales.x.getPixelForValue(v);
    const Y = (v: number) => chart.scales.y.getPixelForValue(v);
    ctx.save();
    ctx.strokeStyle = "#000";
    ctx.lineWidth = o.tickWidth;
    ctx.beginPath();
    const xt = (vals: number[], len: number) =>
      vals.forEach((v) => {
        const p = X(v);
        ctx.moveTo(p, a.bottom);
        ctx.lineTo(p, a.bottom - len);
        ctx.moveTo(p, a.top);
        ctx.lineTo(p, a.top + len);
      });
    const yt = (vals: number[], len: number) =>
      vals.forEach((v) => {
        const p = Y(v);
        ctx.moveTo(a.left, p);
        ctx.lineTo(a.left + len, p);
        ctx.moveTo(a.right, p);
        ctx.lineTo(a.right - len, p);
      });
    xt(o.xMajor, o.majorLen);
    xt(o.xMinor || [], o.minorLen);
    yt(o.yMajor, o.majorLen);
    yt(o.yMinor || [], o.minorLen);
    ctx.stroke();
    ctx.lineWidth = o.borderWidth;
    ctx.strokeRect(a.left, a.top, a.right - a.left, a.bottom - a.top);

    const tickFont = { size: o.tickFont, family: SANS };
    (o.xLabels || []).forEach((v: number) =>
      drawRich(ctx, v.toFixed(o.xDigits || 0), X(v), a.bottom + o.xLabelGap, { ...tickFont, align: "center" })
    );
    (o.yLabels || []).forEach((v: number) =>
      drawRich(ctx, v.toFixed(o.yDigits || 0), a.left - 5, Y(v), { ...tickFont, align: "right" })
    );
    (o.marks || []).forEach(([x, y, t]: Mark) => drawRich(ctx, t, X(x), Y(y), { size: 19, family: SANS, align: "center" }));
    (o.captions || []).forEach(([x, y, t, al]: Caption) =>
      drawRich(ctx, t, X(x), Y(y), { size: 24, family: SERIF, weight: "bold", align: al || "center" })
    );
    (o.arrows || []).forEach(([x1, y1, x2, y2, label]: [number, number, number, number, string]) => {
      const px1 = X(x1), py1 = Y(y1), px2 = X(x2), py2 = Y(y2);
      const ang = Math.atan2(py2 - py1, px2 - px1);
      ctx.lineWidth = 1;
      ctx.beginPath();
      ctx.moveTo(px1, py1);
      ctx.lineTo(px2, py2);
      ctx.moveTo(px2 - 11 * Math.cos(ang - 0.4), py2 - 11 * Math.sin(ang - 0.4));
      ctx.lineTo(px2, py2);
      ctx.lineTo(px2 - 11 * Math.cos(ang + 0.4), py2 - 11 * Math.sin(ang + 0.4));
      ctx.stroke();
      drawRich(ctx, label, px1 + 3, py1 + 3, { size: 23, family: SERIF, align: "left" });
    });
    if (o.legend) {
      const L = o.legend;
      drawRich(ctx, L.title, X(L.x1), Y(L.titleY), { size: 21, family: SANS, align: "left" });
      L.rows.forEach((row: { y: number; marker: Marker; label: string }) => {
        const py = Y(row.y);
        ctx.lineWidth = 1;
        ctx.strokeStyle = "#000";
        ctx.beginPath();
        ctx.moveTo(X(L.x1), py);
        ctx.lineTo(X(L.x2), py);
        ctx.stroke();
        drawMarker(ctx, row.marker, X((L.x1 + L.x2) / 2), py, 5.5);
        drawRich(ctx, row.label, X(L.x2) + 4, py, { size: 21, family: SANS, align: "left" });
      });
    }
    ctx.restore();
  },
};

/* ---------------- layout of the sub-plots ---------------- */

type Box = { x: number; y: number; w: number; h: number };
const PAD = 34;

function PlotCanvas({ box, config }: { box: Box; config: () => any }) {
  const ref = useRef<HTMLCanvasElement | null>(null);
  const W = box.w + PAD * 2;
  const H = box.h + PAD * 2;
  useEffect(() => {
    const chart = new Chart(ref.current as HTMLCanvasElement, config());
    return () => chart.destroy();
  }, []);
  return (
    <canvas
      ref={ref}
      width={W}
      height={H}
      style={{ position: "absolute", left: box.x - PAD, top: box.y - PAD, width: W, height: H }}
    />
  );
}

function baseOptions(xmin: number, xmax: number, ymin: number, ymax: number, frame: any) {
  return {
    animation: false,
    responsive: false,
    maintainAspectRatio: false,
    events: [],
    layout: { padding: PAD },
    plugins: { legend: { display: false }, tooltip: { enabled: false }, title: { display: false }, frame },
    scales: {
      x: { type: "linear", min: xmin, max: xmax, display: false },
      y: { type: "linear", min: ymin, max: ymax, display: false },
    },
  };
}

function xrdConfig(data: Pt[], marks: Mark[], captions: Caption[], bottom: boolean) {
  return () => ({
    type: "line",
    data: {
      datasets: [
        {
          data: data.map(([x, y]) => ({ x, y })),
          borderColor: "#000",
          borderWidth: 3,
          borderJoinStyle: "miter",
          pointRadius: 0,
          tension: 0,
          fill: false,
        },
      ],
    },
    options: baseOptions(10, 70, 0, 4.43, {
      xMajor: twoThetaMajor,
      yMajor: intensityTicks,
      majorLen: 12,
      minorLen: 6,
      tickWidth: 1.5,
      borderWidth: 2,
      tickFont: 19,
      xLabels: bottom ? twoThetaLabels : [],
      xLabelGap: 16,
      marks,
      captions,
    }),
    plugins: [framePlugin],
  });
}

function markerDataset(pts: Pt[], kind: Marker, scale: number) {
  const style: any = {
    circle: { pointStyle: "circle", pointRadius: 6.5 * scale, pointRotation: 0 },
    down: { pointStyle: "triangle", pointRadius: 7.5 * scale, pointRotation: 180 },
    square: { pointStyle: "rect", pointRadius: 8.5 * scale, pointRotation: 0 },
    up: { pointStyle: "triangle", pointRadius: 7.5 * scale, pointRotation: 0 },
    diamond: { pointStyle: "rectRot", pointRadius: 7 * scale, pointRotation: 0 },
  }[kind];
  return {
    data: pts.map(([x, y]) => ({ x, y })),
    showLine: true,
    borderColor: "#000",
    borderWidth: 1,
    backgroundColor: "#fff",
    pointBackgroundColor: "#fff",
    pointBorderColor: "#000",
    pointBorderWidth: 1,
    tension: 0,
    fill: false,
    clip: 10,
    ...style,
  };
}

function isoConfig(series: [Pt[], Marker][], left: boolean, arrow: any[]) {
  return () => ({
    type: "line",
    data: { datasets: series.map(([pts, m]) => markerDataset(pts, m, 1)) },
    options: baseOptions(0, 1, 0, 110, {
      xMajor: [0, 0.5, 1],
      xMinor: [0.05, 0.1, 0.15, 0.2, 0.25, 0.3, 0.35, 0.4, 0.45, 0.55, 0.6, 0.65, 0.7, 0.75, 0.8, 0.85, 0.9, 0.95],
      yMajor: [0, 50, 100],
      yMinor: [10, 20, 30, 40, 60, 70, 80, 90],
      majorLen: 13,
      minorLen: 7,
      tickWidth: 1.3,
      borderWidth: 2,
      tickFont: 21,
      xLabels: left ? [0, 0.5] : [0, 0.5, 1],
      xDigits: 1,
      xLabelGap: 14,
      yLabels: left ? [0, 50, 100] : [],
      arrows: arrow,
    }),
    plugins: [framePlugin],
  });
}

function psdConfig(series: [Pt[], Marker][], left: boolean, legend: any) {
  return () => ({
    type: "line",
    data: { datasets: series.map(([pts, m]) => markerDataset(pts, m, 0.85)) },
    options: baseOptions(1, 5, 0, 0.3, {
      xMajor: [1, 2, 3, 4, 5],
      xMinor: [1.2, 1.4, 1.6, 1.8, 2.2, 2.4, 2.6, 2.8, 3.2, 3.4, 3.6, 3.8, 4.2, 4.4, 4.6, 4.8],
      yMajor: [0, 0.1, 0.2, 0.3],
      yMinor: [0.02, 0.04, 0.06, 0.08, 0.12, 0.14, 0.16, 0.18, 0.22, 0.24, 0.26, 0.28],
      majorLen: 13,
      minorLen: 7,
      tickWidth: 1.3,
      borderWidth: 2,
      tickFont: 21,
      xLabels: left ? [1, 2, 3, 4] : [1, 2, 3, 4, 5],
      xDigits: 0,
      xLabelGap: 19,
      yLabels: left ? [0, 0.1, 0.2, 0.3] : [],
      yDigits: 1,
      legend,
    }),
    plugins: [framePlugin],
  });
}

const A_LEFT = 75;
const A_COL = 251.5;
const A_TOP = 68;
const A_ROW = 143.5;

const xrdPanels: [Pt[], Mark[], Caption[]][][] = [
  [
    [xrdZrO2AsReceived, phaseZrO2AsReceived, captionZrO2AsReceived],
    [xrdZrOOHAsReceived, phaseZrOOHAsReceived, captionZrOOHAsReceived],
  ],
  [
    [xrdZrO2At450, phaseZrO2At450, captionZrO2At450],
    [xrdZrOOHAt450, phaseZrOOHAt450, captionZrOOHAt450],
  ],
  [
    [xrdZrO2Mo110, phaseZrO2Mo110, captionZrO2Mo110],
    [xrdZrOOHMo110, phaseZrOOHMo110, captionZrOOHMo110],
  ],
  [
    [xrdZrO2Mo450, phaseZrO2Mo450, captionZrO2Mo450],
    [xrdZrOOHMo450, phaseZrOOHMo450, captionZrOOHMo450],
  ],
];

const B_LEFT = 693;
const B_W = 252;

const legendRows = markers.map((m, i) => ({ y: 0.2296 - i * 0.0332, marker: m, label: temperatureNames[i] }));

const Txt = ({ x, y, size, serif, bold, anchor, rotate, children }: any) => (
  <div
    style={{
      position: "absolute",
      left: x,
      top: y,
      whiteSpace: "nowrap",
      fontFamily: serif ? SERIF : SANS,
      fontWeight: bold ? "bold" : "normal",
      fontSize: size,
      lineHeight: 1,
      color: "#000",
      transform: `translate(${anchor === "left" ? "0" : "-50%"}, -50%)${rotate ? " rotate(-90deg)" : ""}`,
    }}
  >
    {children}
  </div>
);

const supS = { fontSize: "0.62em", verticalAlign: "0.55em" } as const;
const subS = { fontSize: "0.62em", verticalAlign: "-0.25em" } as const;

export default function App() {
  return (
    <div style={{ position: "absolute", left: 0, top: 0, width: 1213, height: 702, background: "#fff", overflow: "hidden" }}>
      {xrdPanels.map((row, r) =>
        row.map(([data, marks, caps], c) => (
          <PlotCanvas
            key={`xrd-${r}-${c}`}
            box={{ x: A_LEFT + c * A_COL, y: A_TOP + r * A_ROW, w: A_COL, h: A_ROW }}
            config={xrdConfig(data, marks, caps, r === 3)}
          />
        ))
      )}

      <PlotCanvas
        box={{ x: B_LEFT, y: 68, w: B_W, h: 251 }}
        config={isoConfig(
          [
            [supportIso110, "circle"],
            [supportIso250, "down"],
            [supportIso350, "square"],
            [supportIso450, "up"],
          ],
          true,
          [[0.565, 26.5, 0.452, 31.6, "450 ^{o}C"]]
        )}
      />
      <PlotCanvas
        box={{ x: B_LEFT + B_W, y: 68, w: B_W, h: 251 }}
        config={isoConfig(
          [
            [catIso110, "circle"],
            [catIso250, "down"],
            [catIso350, "square"],
            [catIso450, "up"],
            [catIso550, "diamond"],
          ],
          false,
          [[0.52, 28.2, 0.43, 33.6, "550 ^{o}C"]]
        )}
      />
      <PlotCanvas
        box={{ x: B_LEFT, y: 393, w: B_W, h: 250 }}
        config={psdConfig(
          [
            [supportPsd110, "circle"],
            [supportPsd250, "down"],
            [supportPsd350, "square"],
            [supportPsd450, "up"],
          ],
          true,
          null
        )}
      />
      <PlotCanvas
        box={{ x: B_LEFT + B_W, y: 393, w: B_W, h: 250 }}
        config={psdConfig(
          [
            [catPsd110, "circle"],
            [catPsd250, "down"],
            [catPsd350, "square"],
            [catPsd450, "up"],
            [catPsd550, "diamond"],
          ],
          false,
          { title: "Symbols:", titleY: 0.272, x1: 2.11, x2: 2.93, rows: legendRows }
        )}
      />

      {/* Panel A texts */}
      <Txt x={10} y={36} size={44} serif bold anchor="left">A</Txt>
      <Txt x={77} y={45} size={23} serif bold anchor="left">
        ZrO<span style={subS}>2</span>-based samples:
      </Txt>
      <Txt x={296} y={45} size={23} serif bold anchor="left">
        ZrO(OH)<span style={subS}>2</span>-based samples:
      </Txt>
      <Txt x={45} y={356} size={22} rotate>Intensity, a.u.</Txt>
      <Txt x={317} y={690} size={22}>
        Angle 2 theta,<span style={supS}>o</span>
      </Txt>

      {/* Panel B texts */}
      <Txt x={612} y={30} size={44} serif bold anchor="left">B</Txt>
      <Txt x={877} y={13} size={23} serif bold>
        ZrO(OH)<span style={subS}>2</span>-based samples
      </Txt>
      <Txt x={706} y={49} size={27} serif bold anchor="left">Support:</Txt>
      <Txt x={945} y={49} size={28} serif bold anchor="left">
        20.8 wt.% MoO<span style={subS}>3</span> cat.:
      </Txt>
      <Txt x={638} y={195} size={22} rotate>
        N<span style={subS}>2</span> adsorbed, cm<span style={supS}>3</span> (STP)g<span style={supS}>-1</span>
      </Txt>
      <Txt x={945} y={357} size={22}>
        Relative pressure p/p<span style={supS}>0</span>
      </Txt>
      <Txt x={648} y={518} size={23} rotate>
        dV/dr, cm<span style={supS}>3</span> g<span style={supS}>-1</span> nm<span style={supS}>-1</span>
      </Txt>
      <Txt x={945} y={688} size={22}>Pore radius, nm</Txt>
    </div>
  );
}
